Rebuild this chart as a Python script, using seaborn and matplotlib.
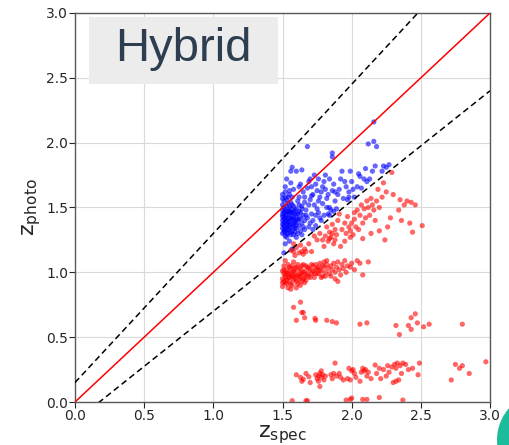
import matplotlib
matplotlib.use("Agg")
import matplotlib.pyplot as plt
from matplotlib.patches import Rectangle, Circle
import seaborn as sns
import pandas as pd
import numpy as np

# --- photometric vs spectroscopic redshifts ---------------------------------
# sources inside the |dz|/(1+z) < 0.15 band
blue_core = [
    (1.50, 1.30), (1.51, 1.36), (1.52, 1.42), (1.50, 1.48), (1.53, 1.33), (1.51, 1.55), (1.54, 1.39), (1.52, 1.28),
    (1.55, 1.45), (1.50, 1.40), (1.53, 1.51), (1.56, 1.35), (1.51, 1.46), (1.54, 1.30), (1.57, 1.41), (1.52, 1.58),
    (1.55, 1.37), (1.50, 1.34), (1.58, 1.47), (1.53, 1.44), (1.56, 1.29), (1.51, 1.50), (1.59, 1.38), (1.54, 1.53),
    (1.57, 1.32), (1.52, 1.39), (1.60, 1.44), (1.55, 1.50), (1.50, 1.57), (1.58, 1.35), (1.53, 1.27), (1.61, 1.40),
    (1.56, 1.46), (1.51, 1.43), (1.59, 1.31), (1.54, 1.47), (1.62, 1.36), (1.57, 1.52), (1.52, 1.35), (1.60, 1.49),
    (1.55, 1.33), (1.50, 1.45), (1.63, 1.42), (1.58, 1.29), (1.53, 1.40), (1.61, 1.55), (1.56, 1.41), (1.51, 1.31),
    (1.64, 1.38), (1.59, 1.45), (1.54, 1.36), (1.62, 1.47), (1.57, 1.37), (1.52, 1.48), (1.65, 1.44), (1.60, 1.34),
    (1.55, 1.42), (1.50, 1.52), (1.63, 1.32), (1.58, 1.42), (1.53, 1.56), (1.61, 1.30), (1.56, 1.54), (1.51, 1.38),
    (1.64, 1.49), (1.59, 1.40), (1.54, 1.42), (1.62, 1.41), (1.57, 1.46), (1.52, 1.32), (1.50, 1.37), (1.55, 1.60),
    (1.60, 1.37), (1.53, 1.47), (1.58, 1.51), (1.51, 1.41), (1.56, 1.31), (1.63, 1.46), (1.54, 1.34), (1.50, 1.43),
    (1.57, 1.43), (1.52, 1.45), (1.59, 1.34), (1.61, 1.45), (1.55, 1.39), (1.66, 1.40), (1.53, 1.37), (1.60, 1.41),
    (1.51, 1.33), (1.58, 1.38), (1.52, 1.62), (1.50, 1.60), (1.54, 1.58), (1.56, 1.49), (1.62, 1.52), (1.65, 1.35),
    (1.57, 1.58), (1.53, 1.30), (1.59, 1.48), (1.55, 1.47), (1.51, 1.15), (1.57, 1.18), (1.55, 1.24), (1.52, 1.22),
    (1.60, 1.27), (1.64, 1.29), (1.57, 1.81), (1.56, 1.78), (1.60, 1.78), (1.64, 1.79), (1.52, 1.66), (1.56, 1.69),
    (1.53, 1.72), (1.58, 1.64), (1.62, 1.66), (1.55, 1.63),
]
blue_spread = [
    (1.66, 1.58), (1.68, 1.65), (1.70, 1.72), (1.72, 1.60), (1.69, 1.52), (1.74, 1.68), (1.71, 1.45), (1.76, 1.55),
    (1.73, 1.75), (1.67, 1.48), (1.78, 1.62), (1.75, 1.49), (1.80, 1.70), (1.77, 1.42), (1.82, 1.57), (1.79, 1.66),
    (1.84, 1.50), (1.81, 1.75), (1.86, 1.63), (1.83, 1.45), (1.70, 1.38), (1.74, 1.36), (1.78, 1.40), (1.68, 1.42),
    (1.72, 1.33), (1.76, 1.46), (1.80, 1.44), (1.85, 1.48), (1.88, 1.55), (1.87, 1.68), (1.90, 1.60), (1.92, 1.72),
    (1.89, 1.49), (1.94, 1.57), (1.96, 1.66), (1.93, 1.78), (1.98, 1.62), (1.97, 1.56), (2.00, 1.70), (2.02, 1.58),
    (1.99, 1.78), (2.04, 1.66), (2.05, 1.76), (2.07, 1.65), (2.09, 1.72), (2.11, 1.70), (2.13, 1.72), (2.10, 1.80),
    (2.15, 1.78), (2.17, 1.82), (2.22, 1.78), (2.25, 1.81), (2.23, 1.82), (2.27, 1.83), (2.12, 1.99), (2.16, 2.01),
    (2.18, 1.97), (2.16, 2.16), (1.86, 1.92), (1.86, 1.89), (1.68, 1.97), (1.71, 1.59), (1.65, 1.62), (1.73, 1.52),
    (1.77, 1.58), (1.69, 1.70), (1.75, 1.63), (1.79, 1.53), (1.66, 1.54), (1.71, 1.66), (1.62, 1.58), (1.64, 1.51),
    (1.67, 1.44), (1.63, 1.68), (1.70, 1.56), (1.74, 1.44), (1.81, 1.64), (1.84, 1.72), (1.76, 1.72), (1.91, 1.64),
    (2.06, 1.74), (2.01, 1.64), (1.95, 1.70), (1.98, 1.58), (1.83, 1.60), (1.88, 1.62), (1.72, 1.40), (1.82, 1.50),
    (1.69, 1.35), (1.66, 1.33), (1.84, 1.44), (1.87, 1.47),
]

# catastrophic outliers
red_band = [
    (1.50, 0.95), (1.51, 0.99), (1.52, 0.92), (1.53, 1.02), (1.50, 0.89), (1.54, 0.96), (1.55, 1.04), (1.52, 0.98),
    (1.56, 0.91), (1.51, 1.05), (1.57, 0.97), (1.53, 0.94), (1.58, 1.01), (1.54, 0.88), (1.59, 0.95), (1.55, 0.99),
    (1.50, 1.01), (1.60, 0.93), (1.56, 1.03), (1.52, 0.96), (1.61, 0.98), (1.57, 0.90), (1.53, 0.99), (1.62, 1.02),
    (1.58, 0.94), (1.54, 1.06), (1.63, 0.96), (1.59, 1.00), (1.55, 0.93), (1.64, 0.99), (1.60, 1.04), (1.51, 0.93),
    (1.65, 0.95), (1.61, 0.91), (1.56, 0.97), (1.66, 1.01), (1.62, 0.97), (1.57, 1.05), (1.67, 0.98), (1.63, 1.03),
    (1.58, 0.97), (1.68, 1.04), (1.64, 0.93), (1.59, 1.03), (1.69, 0.97), (1.65, 1.00), (1.60, 0.97), (1.70, 1.02),
    (1.66, 0.96), (1.61, 1.06), (1.71, 0.99), (1.67, 1.05), (1.62, 0.94), (1.72, 1.05), (1.68, 0.99), (1.63, 0.99),
    (1.73, 0.96), (1.69, 1.03), (1.64, 1.05), (1.74, 1.02), (1.70, 0.96), (1.65, 1.06), (1.75, 0.99), (1.71, 1.06),
    (1.66, 0.92), (1.76, 1.04), (1.72, 1.01), (1.67, 0.94), (1.77, 1.07), (1.73, 0.99), (1.78, 1.01), (1.74, 1.06),
    (1.79, 0.97), (1.75, 1.03), (1.80, 1.04), (1.76, 0.99), (1.81, 1.00), (1.77, 1.02), (1.82, 1.06), (1.78, 0.96),
    (1.83, 1.03), (1.79, 1.05), (1.84, 0.99), (1.80, 1.08), (1.85, 1.05), (1.81, 0.97), (1.86, 1.02), (1.82, 1.09),
    (1.87, 1.07), (1.88, 1.00), (1.89, 1.04), (1.90, 1.08), (1.91, 1.02), (1.92, 0.98), (1.93, 1.06), (1.94, 1.03),
    (1.95, 1.09), (1.96, 1.00), (1.97, 1.05), (1.99, 1.04), (2.00, 1.07), (2.02, 1.02), (2.04, 1.09), (2.06, 1.07),
    (2.08, 0.98), (2.12, 1.08), (1.88, 0.95), (1.85, 0.97), (1.90, 0.93), (1.52, 1.09), (1.56, 0.87), (1.60, 0.88),
    (1.58, 1.08), (1.63, 0.90), (1.54, 1.00), (1.50, 0.92), (1.51, 1.02), (1.55, 0.96), (1.57, 1.00), (1.53, 0.91),
    (1.59, 1.13), (1.62, 1.15), (1.65, 1.14), (1.67, 1.16), (1.58, 1.16),
]
red_mid = [
    (1.56, 1.17), (1.60, 1.19), (1.63, 1.21), (1.66, 1.18), (1.69, 1.22), (1.71, 1.16), (1.58, 1.22), (1.64, 1.16),
    (1.75, 1.25), (1.77, 1.30), (1.79, 1.25), (1.81, 1.28), (1.82, 1.35), (1.83, 1.24), (1.84, 1.31), (1.85, 1.27),
    (1.86, 1.37), (1.87, 1.22), (1.88, 1.33), (1.89, 1.29), (1.90, 1.40), (1.86, 1.30), (1.84, 1.26), (1.88, 1.25),
    (1.93, 1.33), (1.95, 1.38), (1.96, 1.30), (1.97, 1.43), (1.98, 1.35), (1.99, 1.32), (2.00, 1.38), (2.01, 1.29),
    (2.02, 1.41), (2.03, 1.35), (2.04, 1.48), (2.05, 1.33), (2.06, 1.44), (1.99, 1.27), (2.02, 1.46), (2.07, 1.52),
    (2.09, 1.49), (2.11, 1.55), (2.12, 1.50), (2.14, 1.57), (2.15, 1.52), (2.16, 1.48), (2.18, 1.55), (2.13, 1.44),
    (2.10, 1.42), (2.08, 1.38), (2.17, 1.40), (2.20, 1.50), (2.22, 1.58), (2.23, 1.69), (2.29, 1.77), (2.25, 1.62),
    (2.28, 1.42), (2.26, 1.35), (2.20, 1.32), (2.24, 1.25), (2.35, 1.56), (2.38, 1.52), (2.40, 1.55), (2.43, 1.54),
    (2.36, 1.40), (2.42, 1.38), (2.44, 1.31), (2.51, 1.36), (2.34, 1.48), (2.46, 1.52), (1.92, 1.20), (1.95, 1.24),
    (2.08, 1.26), (2.14, 1.30), (1.80, 1.20), (1.73, 1.28), (1.91, 1.45), (2.30, 1.60), (2.19, 1.64),
]
red_low = [
    (1.58, 0.73), (1.63, 0.77), (1.64, 0.69), (1.65, 0.69), (1.60, 0.63), (1.66, 0.65), (1.735, 0.645), (1.74, 0.63),
    (1.82, 0.63), (1.86, 0.62), (1.89, 0.61), (2.06, 0.60), (2.11, 0.61), (2.32, 0.59), (2.345, 0.52), (2.41, 0.59),
    (2.43, 0.56), (2.43, 0.65), (2.46, 0.68), (2.475, 0.61), (2.52, 0.58), (2.56, 0.60), (2.80, 0.60),
]
red_floor = [
    (1.60, 0.21), (1.63, 0.19), (1.65, 0.175), (1.67, 0.22), (1.69, 0.195), (1.64, 0.16), (1.70, 0.15),
    (1.75, 0.18), (1.76, 0.20), (1.77, 0.22), (1.78, 0.19), (1.79, 0.21), (1.80, 0.17), (1.76, 0.16), (1.78, 0.24),
    (1.77, 0.12), (1.74, 0.21), (1.81, 0.20), (1.85, 0.21), (1.87, 0.22), (1.88, 0.30), (1.89, 0.20), (1.91, 0.22),
    (1.92, 0.19), (1.86, 0.18), (1.94, 0.17), (1.97, 0.18), (1.99, 0.17), (2.00, 0.24), (2.01, 0.25), (2.02, 0.22),
    (2.03, 0.19), (1.98, 0.26), (2.07, 0.23), (2.08, 0.26), (2.09, 0.24), (2.10, 0.25), (2.12, 0.23), (2.11, 0.20),
    (2.14, 0.18), (2.06, 0.16), (2.17, 0.285), (2.18, 0.22), (2.20, 0.26), (2.21, 0.18), (2.23, 0.25), (2.25, 0.20),
    (2.27, 0.23), (2.29, 0.27), (2.26, 0.28), (2.31, 0.29), (2.32, 0.26), (2.33, 0.30), (2.35, 0.28), (2.37, 0.30),
    (2.39, 0.29), (2.30, 0.15), (2.32, 0.16), (2.34, 0.17), (2.36, 0.22), (2.41, 0.25), (2.44, 0.26), (2.49, 0.30),
    (2.48, 0.21), (2.75, 0.29), (2.78, 0.26), (2.80, 0.28), (2.85, 0.22), (2.72, 0.17), (2.97, 0.31),
]
red_zero = [
    (1.57, 0.01), (1.67, 0.01), (1.68, 0.01), (1.96, 0.015), (2.00, 0.03), (1.99, 0.02), (2.08, 0.02),
    (2.11, 0.02), (2.20, 0.035), (2.37, 0.015),
]

outlier_cut = 0.15
axis_ticks = [0.0, 0.5, 1.0, 1.5, 2.0, 2.5, 3.0]
panel_title = "Hybrid"

good = blue_core + blue_spread
bad = red_band + red_mid + red_low + red_floor + red_zero
df = pd.DataFrame(good + bad, columns=["z_spec", "z_photo"])
df["kind"] = ["good"] * len(good) + ["outlier"] * len(bad)

sns.set_style("whitegrid", {
    "axes.edgecolor": "0.35",
    "grid.color": "0.85",
    "xtick.bottom": True,
    "ytick.left": True,
    "xtick.color": "0.15",
    "ytick.color": "0.15",
})
plt.rcParams["font.family"] = ["DejaVu Sans"]

fig = plt.figure(figsize=(5.09, 4.45), dpi=100)
ax = fig.add_axes([75 / 509, 43 / 445, 415 / 509, 389 / 445])

sns.scatterplot(data=df, x="z_spec", y="z_photo", hue="kind",
                palette={"good": "blue", "outlier": "red"},
                s=14, alpha=0.6, linewidth=0, legend=False, ax=ax, zorder=2)

zz = np.array([0.0, 3.0])
ax.plot(zz, zz, color="red", lw=1.1, zorder=3)
ax.plot(zz, zz + outlier_cut * (1 + zz), color="black", ls=(0, (4, 2.5)), lw=1.1, zorder=3)
ax.plot(zz, zz - outlier_cut * (1 + zz), color="black", ls=(0, (4, 2.5)), lw=1.1, zorder=3)

ax.set_xlim(0, 3)
ax.set_ylim(0, 3)
ax.set_xticks(axis_ticks)
ax.set_yticks(axis_ticks)
ax.tick_params(axis="both", labelsize=10, length=4, width=0.8, pad=1)
for sp in ax.spines.values():
    sp.set_linewidth(1.0)
ax.set_xlabel(r"$\mathrm{z}_{\mathrm{spec}}$", fontsize=16, labelpad=0)
ax.set_ylabel(r"$\mathrm{z}_{\mathrm{photo}}$", fontsize=16, labelpad=2)

# title badge
fig.patches.append(Rectangle((89, 445 - 84), 189, 67, transform=None,
                             facecolor="#ececec", edgecolor="none", zorder=5))
fig.text(183.5 / 509, (445 - 49) / 445, panel_title, fontsize=34,
         family=["Liberation Sans", "DejaVu Sans"], color="#2c3e50",
         ha="center", va="center", zorder=6)

# corner badge
fig.patches.append(Circle((5.45, 0.05), 0.48, transform=fig.dpi_scale_trans,
                          facecolor="#1abc9c", edgecolor="none", zorder=5))

fig.savefig("out.png", dpi=100)
